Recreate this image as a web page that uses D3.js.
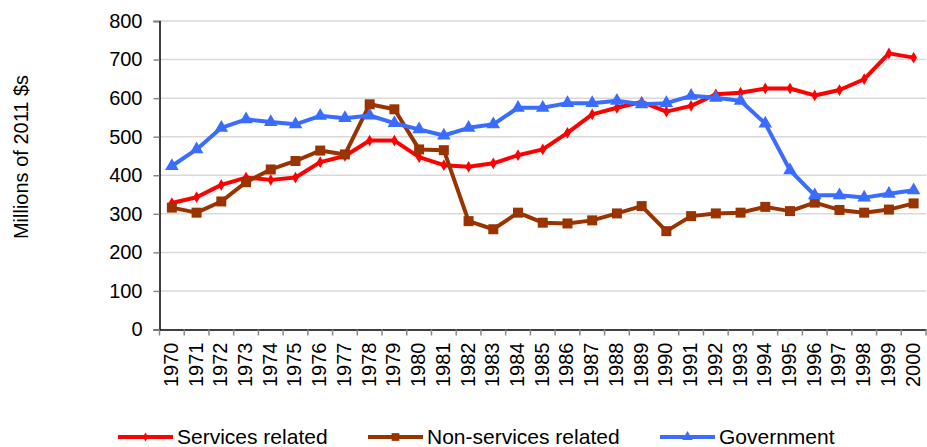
<!DOCTYPE html>
<html><head><meta charset="utf-8">
<script src="https://cdn.jsdelivr.net/npm/d3@7/dist/d3.min.js"></script>
<style>body{margin:0;background:#fff}svg{display:block}text{font-family:"Liberation Sans",Arial,sans-serif;fill:#000}</style>
</head><body><svg id="c" width="927" height="447"></svg>
<script>
const years = d3.range(1970, 2001).map(String);
const servicesRelated = [328,343,375,394,388,394,434,450,490,490,447,426,422,431,452,467,510,558,575,590,565,580,610,614,625,625,607,621,649,716,705];
const nonServicesRelated = [316,303,332,382,415,437,464,454,584,571,467,465,281,260,303,277,275,283,301,320,255,294,301,303,318,307,329,310,303,311,327];
const government = [424,467,523,545,538,532,554,548,555,535,519,503,523,532,575,575,587,587,593,584,587,606,601,593,534,413,348,348,342,352,361];
const yTicks = [0,100,200,300,400,500,600,700,800];
const seriesNames = ["Services related","Non-services related","Government"];

const svg = d3.select("#c");
const L = 159.5, R = 926, T = 21, B = 329.5;
const x = d3.scaleBand().domain(years).range([L, R]);
const y = d3.scaleLinear().domain([0, 800]).range([B, T]);
const FONT = "Liberation Sans, Arial, sans-serif";

// gridlines
svg.append("g").selectAll("line").data(yTicks.filter(d => d > 0)).join("line")
  .attr("x1", L).attr("x2", R).attr("y1", d => y(d)).attr("y2", d => y(d))
  .attr("stroke", "#d9d9d9").attr("stroke-width", 1.5);

// y axis
const ya = svg.append("g").attr("transform", `translate(${L},0)`)
  .call(d3.axisLeft(y).tickValues(yTicks).tickSize(6).tickPadding(11));
ya.select(".domain").attr("stroke", "#000").attr("stroke-width", 1.5);
ya.selectAll(".tick line").attr("stroke", "#888").attr("stroke-width", 1.5);
ya.selectAll(".tick text").attr("font-size", 20).attr("font-family", FONT);

// x axis
const xa = svg.append("g").attr("transform", `translate(0,${B})`)
  .call(d3.axisBottom(x).tickSize(0).tickPadding(0));
xa.select(".domain").attr("stroke", "#000").attr("stroke-width", 1.5);
xa.selectAll(".tick text").attr("font-size", 20).attr("font-family", FONT)
  .attr("transform", "rotate(-90)").attr("text-anchor", "end").attr("dy", "0.35em").attr("x", -13).attr("y", -1);
// band boundary ticks
const bounds = years.map(d => x(d)).concat([R]);
svg.append("g").selectAll("line").data(bounds).join("line")
  .attr("x1", d => d).attr("x2", d => d).attr("y1", B).attr("y2", B + 6)
  .attr("stroke", "#888").attr("stroke-width", 1.5);

// y title
svg.append("text").attr("transform", "translate(28,157) rotate(-90)")
  .attr("text-anchor", "middle").attr("font-size", 20).text("Millions of 2011 $s");

const cx = d => x(d) + x.bandwidth() / 2;
const series = [
  {name: seriesNames[0], vals: servicesRelated, color: "#ff0000", sym: d3.symbolDiamond, size: 40},
  {name: seriesNames[1], vals: nonServicesRelated, color: "#993300", sym: d3.symbolSquare, size: 100},
  {name: seriesNames[2], vals: government, color: "#3a6cff", sym: d3.symbolTriangle, size: 80}
];
const line = d3.line().x((d, i) => cx(years[i])).y(d => y(d));
series.forEach(s => {
  svg.append("path").datum(s.vals).attr("d", line).attr("fill", "none")
    .attr("stroke", s.color).attr("stroke-width", 4).attr("stroke-linejoin", "round");
  svg.append("g").selectAll("path").data(s.vals).join("path")
    .attr("d", d3.symbol().type(s.sym).size(s.size))
    .attr("transform", (d, i) => `translate(${cx(years[i])},${y(d)})`)
    .attr("fill", s.color);
});

// legend
const legX = [118, 368, 660];
series.forEach((s, i) => {
  const g = svg.append("g").attr("transform", `translate(${legX[i]},437)`);
  g.append("line").attr("x1", 0).attr("x2", 55).attr("stroke", s.color).attr("stroke-width", 4);
  g.append("path").attr("d", d3.symbol().type(s.sym).size(s.size * 0.6)).attr("transform", "translate(27.5,0)").attr("fill", s.color);
  g.append("text").attr("x", 59).attr("dy", "0.35em").attr("font-size", 21).text(s.name);
});
</script></body></html>
